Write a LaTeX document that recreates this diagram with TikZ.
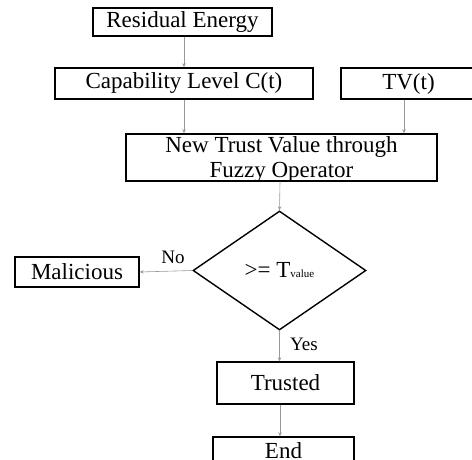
\documentclass[tikz,border=0pt]{standalone}
\usepackage{fontspec}
\setmainfont{Liberation Serif}
\usetikzlibrary{shapes.geometric,arrows.meta}
\begin{document}
\begin{tikzpicture}[x=1pt,y=-1pt,
  every node/.style={font=\fontsize{23}{25}\selectfont},
  box/.style={draw=black,line width=1.4pt,inner sep=0pt,align=center},
  dec/.style={draw=black,line width=1.4pt,diamond,inner sep=0pt,minimum width=173pt,minimum height=119pt},
  arr/.style={draw=gray!80,line width=0.6pt,-{Stealth[length=4pt,width=3.5pt]}},
  lbl/.style={font=\fontsize{19}{21}\selectfont}]
\useasboundingbox (0,0) rectangle (472,460);
\node[box,minimum width=179pt,minimum height=28pt] (re) at (182.5,22) {Residual Energy};
\node[box,minimum width=258pt,minimum height=31pt] (cl) at (184,83.5) {Capability Level C(t)};
\node[box,minimum width=135pt,minimum height=31pt] (tv) at (408.5,83.5) {TV(t)};
\node[box,minimum width=311pt,minimum height=47pt] (nt) at (281.5,157.5) {};
\node[align=center,inner sep=0pt] (ntt) at (281.5,159.5) {\fontsize{23}{23.5}\selectfont New Trust Value through\\Fuzzy Operator};
\node[dec] (d) at (279.5,270.5) {>= T{\fontsize{11}{11}\selectfont value}};
\node[box,minimum width=124pt,minimum height=30pt] (m) at (77,272) {Malicious};
\node[box,minimum width=137pt,minimum height=42pt] (t) at (285.5,383) {Trusted};
\node[box,minimum width=141pt,minimum height=28pt] (e) at (283.5,451) {End};
\draw[arr] (re.south -| 184,0) -- (cl.north -| 184,0);
\draw[arr] (cl.south -| 184,0) -- (nt.north -| 184,0);
\draw[arr] (tv.south -| 404,0) -- (nt.north -| 404,0);
\draw[arr] (nt.south -| 280,0) -- (d.north);
\draw[arr] (d.west) -- (m.east);
\draw[arr] (d.south) -- (t.north -| d.south);
\draw[arr] (t.south -| 280,0) -- (e.north -| 280,0);
\node[lbl] (no) at (173,257) {No};
\node[lbl] (yes) at (304,344) {Yes};
\end{tikzpicture}
\end{document}
